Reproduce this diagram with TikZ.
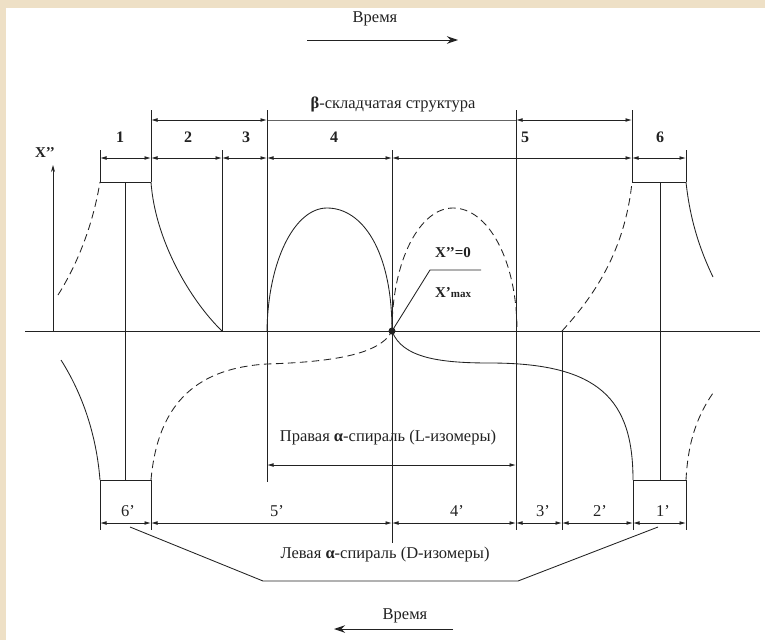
\documentclass[tikz,border=0pt]{standalone}
\usepackage{fontspec}
\setmainfont{Liberation Serif}
\usetikzlibrary{arrows.meta}
\definecolor{beige}{HTML}{EEE0C6}
\definecolor{ink}{HTML}{222222}
\begin{document}
\begin{tikzpicture}[x=1pt,y=-1pt,
 ln/.style={ink, line width=0.85pt},
 thin/.style={ink!70, line width=0.6pt},
 dsh/.style={ink, line width=0.85pt, dash pattern=on 7.5pt off 4.5pt},
 dim/.style={ink, line width=0.85pt, {Latex[length=6.5pt,width=3.8pt]}-{Latex[length=6.5pt,width=3.8pt]}},
 tarrow/.style={ink, line width=1pt, -{Stealth[length=11pt,width=7.5pt]}},
 lbl/.style={font=\fontsize{16.5}{18}\selectfont, inner sep=0pt, text=ink},
 num/.style={font=\fontsize{16}{18}\selectfont\bfseries, inner sep=0pt, text=ink},
 sml/.style={font=\fontsize{15}{17}\selectfont\bfseries, inner sep=0pt, text=ink},
]
\useasboundingbox (0,0) rectangle (765,640);
\fill[beige] (0,0) rectangle (765,640);
\fill[white] (6,8) rectangle (765,640);

% time arrows
\node[lbl] (t1) at (375,19) {Время};
\coordinate (t1a) at (307,40);
\coordinate (t1b) at (458,40);
\draw[tarrow] (t1a) -- (t1b);
\node[lbl] (t2) at (405,616) {Время};
\coordinate (t2a) at (453,629);
\coordinate (t2b) at (334,629);
\draw[tarrow] (t2a) -- (t2b);

% beta bracket
\node[lbl] (beta) at (393,104) {\textbf{β}-складчатая структура};
\draw[dim] (151,120) -- (267,120);
\draw[thin] (267,120) -- (516,120);
\draw[dim] (516,120) -- (632,120);

% axes
\draw[ln] (25,331) -- (760,331);
\draw[ln, -{Stealth[length=7pt,width=4pt]}] (53,331) -- (53,165);
\node[sml] (xax) at (45,153) {X’’};

% vertical lines
\draw[ln] (100,150) -- (100,182);
\draw[ln] (151,110) -- (151,182);
\draw[ln] (125,182) -- (125,480);
\draw[ln] (222,150) -- (222,331);
\draw[ln] (267,110) -- (267,482);
\draw[ln] (392,150) -- (392,543);
\draw[ln] (516,110) -- (516,530);
\draw[ln] (562,331) -- (562,530);
\draw[ln] (632,110) -- (632,182);
\draw[ln] (686,150) -- (686,182);
\draw[ln] (660,182) -- (660,480);
\draw[ln] (100,480) -- (100,530);
\draw[ln] (151,480) -- (151,530);
\draw[ln] (633,480) -- (633,530);
\draw[ln] (686,480) -- (686,530);

% boxes
\draw[ln] (100,182) -- (151,182);
\draw[ln] (632,182) -- (686,182);
\draw[ln] (100,480) -- (151,480);
\draw[ln] (633,480) -- (686,480);

% top dimension row
\draw[dim] (100,158) -- (151,158);
\draw[dim] (151,158) -- (222,158);
\draw[dim] (222,158) -- (267,158);
\draw[dim] (267,158) -- (392,158);
\draw[dim] (392,158) -- (632,158);
\draw[dim] (632,158) -- (686,158);
\node[num] (n1) at (120,137) {1};
\node[num] (n2) at (188,137) {2};
\node[num] (n3) at (246,137) {3};
\node[num] (n4) at (334,137) {4};
\node[num] (n5) at (525,137) {5};
\node[num] (n6) at (660,137) {6};

% bottom dimension row
\draw[dim] (100,523) -- (151,523);
\draw[dim] (151,523) -- (392,523);
\draw[dim] (392,523) -- (516,523);
\draw[dim] (516,523) -- (562,523);
\draw[dim] (562,523) -- (633,523);
\draw[dim] (633,523) -- (686,523);
\node[lbl] (m6) at (128,511) {6'};
\node[lbl] (m5) at (277,511) {5'};
\node[lbl] (m4) at (457,511) {4'};
\node[lbl] (m3) at (543,511) {3'};
\node[lbl] (m2) at (600,511) {2'};
\node[lbl] (m1) at (663,511) {1'};

% curves above axis
\draw[dsh] (58,295) .. controls (75,268) and (92,230) .. (100,182);
\draw[ln] (151,182) .. controls (155,240) and (190,300) .. (222,331);
\draw[ln] (267,331) .. controls (268,260) and (295,208) .. (327,208)
  .. controls (362,208) and (392,250) .. (392,331);
\draw[dsh] (392,331) .. controls (392,260) and (420,208) .. (453,208)
  .. controls (488,208) and (517,260) .. (517,331);
\draw[dsh] (562,331) .. controls (595,295) and (625,250) .. (632,182);
\draw[ln] (686,182) .. controls (690,220) and (700,250) .. (713,277);

% curves below axis
\draw[ln] (61,360) .. controls (80,390) and (96,430) .. (100,480);
\draw[dsh] (151,480) .. controls (158,400) and (200,368) .. (267,364)
  .. controls (330,362) and (380,355) .. (392,331);
\draw[ln] (392,331) .. controls (402,358) and (440,363) .. (490,363)
  .. controls (600,363) and (633,400) .. (633,480);
\draw[dsh] (686,480) .. controls (688,440) and (698,415) .. (713,393);

% singular point
\fill[ink] (392,331) circle (3.5);
\node[sml] (x0) at (453,253) {X’’=0};
\coordinate (lk) at (430,270);
\coordinate (lk2) at (481,270);
\draw[ln] (392,331) -- (lk) -- (lk2);
\node[sml] (xm) at (453,293) {X’\fontsize{11}{12}\selectfont max};

% right alpha helix
\node[lbl] (ra) at (388,438) {Правая \textbf{α}-спираль (L-изомеры)};
\draw[dim] (267,465) -- (516,465);

% left alpha helix
\node[lbl] (la) at (385,555) {Левая \textbf{α}-спираль (D-изомеры)};
\draw[ln] (130,527) -- (263,581) -- (518,581) -- (658,527);

\end{tikzpicture}
\end{document}
